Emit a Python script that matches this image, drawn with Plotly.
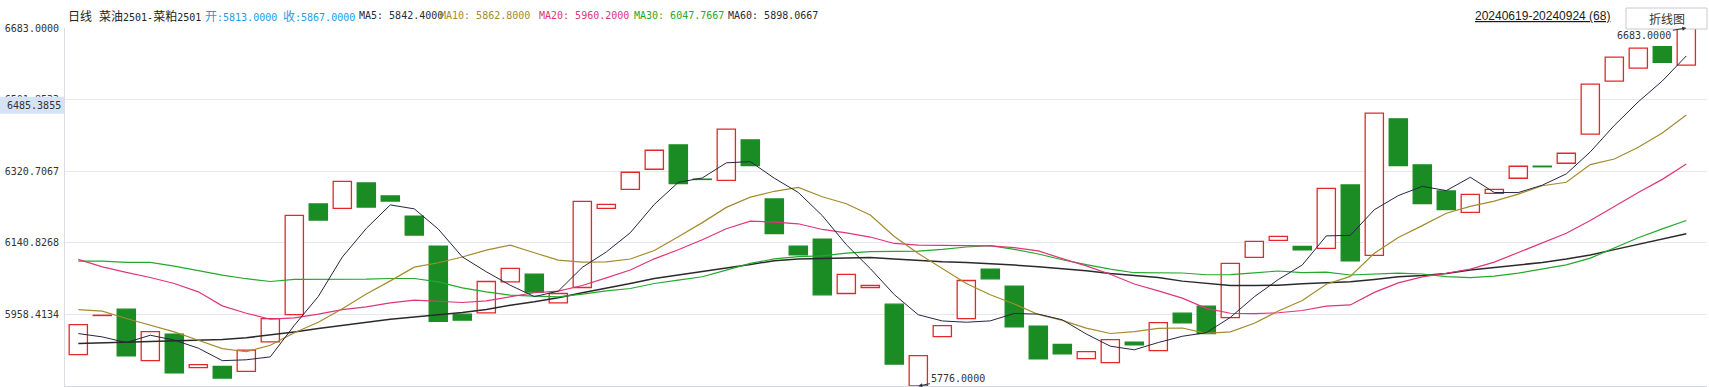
import plotly.graph_objects as go

# ---------------- data ----------------
days = list(range(68))  # 20240619 .. 20240924, 68 trading days

opens = [5855.5, 5954.5, 5970.6, 5840.3, 5907.1, 5822.5, 5825.9, 5813.0, 5887.7, 5957.0,
         6237.1, 6226.1, 6290.4, 6257.4, 6206.6, 6130.5, 5957.9, 5961.3, 6040.0, 6059.4,
         5986.7, 6025.6, 6226.1, 6274.3, 6325.1, 6386.9, 6300.2, 6297.2, 6399.6, 6249.8,
         6130.5, 6148.3, 6010.4, 6025.6, 5983.3, 5776.0, 5901.2, 5946.9, 6072.1, 6029.0,
         5927.4, 5881.7, 5845.4, 5835.2, 5886.8, 5865.7, 5960.4, 5978.2, 5949.4, 6101.7,
         6144.9, 6129.7, 6124.6, 6285.3, 6106.8, 6452.9, 6336.1, 6270.1, 6216.0, 6264.2,
         6302.3, 6333.0, 6340.3, 6413.9, 6548.5, 6581.5, 6635.6, 6589.1]
closes = [5931.7, 5954.5, 5852.1, 5913.9, 5809.0, 5830.1, 5796.3, 5867.0, 5946.9, 6208.3,
          6196.5, 6294.6, 6229.5, 6244.7, 6158.4, 5940.1, 5942.7, 6040.8, 6073.8, 6013.7,
          6010.4, 6243.9, 6236.3, 6317.5, 6373.3, 6288.7, 6299.2, 6426.6, 6334.4, 6161.8,
          6108.5, 6007.0, 6058.6, 6030.7, 5831.8, 5853.0, 5929.1, 6043.3, 6047.6, 5925.7,
          5844.5, 5857.2, 5863.1, 5893.6, 5880.0, 5936.7, 5935.9, 5908.8, 6086.5, 6142.3,
          6155.0, 6121.2, 6276.9, 6093.3, 6467.2, 6334.4, 6238.0, 6222.7, 6261.6, 6274.3,
          6332.7, 6331.4, 6365.7, 6540.9, 6609.4, 6632.2, 6595.9, 6683.0]

ma5 = [5908.8, 5900.4, 5886.0, 5904.6, 5892.2, 5871.9, 5840.2, 5842.4, 5849.8, 5929.6,
       6002.9, 6102.7, 6175.2, 6234.8, 6224.8, 6173.5, 6103.1, 6065.4, 6031.2, 6002.4,
       6016.4, 6076.6, 6115.6, 6164.3, 6236.1, 6291.9, 6303.1, 6341.3, 6344.6, 6302.4,
       6266.3, 6207.7, 6134.1, 6073.5, 6007.5, 5956.4, 5940.8, 5937.6, 5941.0, 5959.8,
       5958.1, 5943.7, 5907.7, 5876.9, 5867.7, 5886.2, 5902.0, 5911.2, 5949.7, 6002.1,
       6045.7, 6082.7, 6156.3, 6157.6, 6222.6, 6258.4, 6281.8, 6271.0, 6304.8, 6266.2,
       6266.0, 6284.8, 6313.4, 6369.2, 6436.2, 6496.0, 6548.8, 6612.2]
ma10 = [5969.7, 5965.5, 5946.9, 5930.0, 5913.0, 5891.9, 5870.7, 5862.8, 5879.2, 5910.9,
        5937.4, 5971.5, 6009.2, 6042.3, 6077.2, 6088.2, 6102.9, 6120.3, 6133.0, 6113.6,
        6095.0, 6089.9, 6090.5, 6097.8, 6119.3, 6154.2, 6189.9, 6228.5, 6254.5, 6269.3,
        6279.1, 6255.4, 6237.7, 6209.1, 6155.0, 6111.4, 6074.3, 6035.9, 6007.3, 5983.7,
        5957.3, 5942.3, 5922.7, 5909.0, 5913.8, 5922.2, 5922.9, 5909.5, 5913.3, 5934.9,
        5966.0, 5992.4, 6033.8, 6053.7, 6112.4, 6152.1, 6182.3, 6213.7, 6231.2, 6244.4,
        6262.2, 6283.3, 6292.2, 6337.0, 6351.2, 6381.0, 6416.8, 6462.8]
ma20 = [6096.7, 6078.0, 6063.7, 6051.0, 6035.7, 6014.6, 5979.0, 5960.2, 5945.2, 5948.6,
        5957.9, 5969.7, 5976.5, 5986.7, 5993.4, 5990.9, 5987.5, 5991.7, 6001.9, 6012.3,
        6016.2, 6030.7, 6049.8, 6070.0, 6098.2, 6121.2, 6146.4, 6174.4, 6193.7, 6191.4,
        6187.0, 6172.6, 6164.1, 6153.4, 6137.1, 6132.8, 6132.1, 6132.2, 6130.9, 6126.5,
        6118.2, 6098.8, 6080.2, 6059.0, 6034.4, 6016.8, 5998.6, 5972.7, 5960.3, 5959.3,
        5961.6, 5967.3, 5978.2, 5981.3, 6013.1, 6037.1, 6052.6, 6061.6, 6072.3, 6089.7,
        6114.1, 6137.8, 6163.0, 6195.3, 6231.8, 6266.5, 6299.5, 6338.2]
ma30 = [6092.4, 6092.4, 6089.0, 6089.0, 6079.7, 6067.9, 6056.9, 6047.8, 6040.8, 6045.9,
        6045.9, 6045.9, 6046.7, 6048.4, 6048.4, 6040.0, 6024.7, 6014.6, 6006.1, 6003.6,
        6001.9, 6008.7, 6017.1, 6023.0, 6035.7, 6044.2, 6052.7, 6069.6, 6086.5, 6097.9,
        6103.8, 6105.6, 6112.5, 6116.4, 6117.1, 6117.9, 6122.3, 6128.2, 6131.6, 6122.2,
        6110.4, 6095.8, 6083.6, 6071.9, 6063.0, 6062.6, 6062.3, 6057.9, 6058.3, 6062.6,
        6067.4, 6063.3, 6064.7, 6057.2, 6060.4, 6061.9, 6059.8, 6053.0, 6050.6, 6054.3,
        6061.8, 6072.6, 6082.9, 6099.9, 6125.8, 6151.7, 6174.0, 6195.3]
ma60 = [5883.4, 5885.0, 5886.8, 5887.7, 5889.4, 5890.3, 5893.6, 5898.1, 5904.6, 5913.0,
        5921.5, 5930.0, 5938.4, 5945.2, 5951.1, 5956.2, 5962.1, 5969.7, 5980.7, 5989.2,
        5999.4, 6012.0, 6023.0, 6035.7, 6048.4, 6056.9, 6065.3, 6073.8, 6084.0, 6093.3,
        6097.5, 6099.2, 6100.9, 6101.7, 6097.5, 6093.3, 6090.7, 6089.0, 6086.5, 6082.3,
        6078.0, 6073.8, 6067.9, 6061.1, 6056.9, 6051.0, 6041.7, 6035.7, 6030.7, 6030.7,
        6031.5, 6034.9, 6037.4, 6039.9, 6045.9, 6052.7, 6056.0, 6061.1, 6069.6, 6076.1,
        6082.8, 6089.1, 6097.7, 6108.1, 6121.5, 6134.8, 6148.2, 6161.8]

y_min, y_max = 5776.0, 6683.0
tick_vals = [6683.0, 6501.6, 6320.2, 6138.8, 5957.4]
tick_text = ["6683.0000", "6501.8533", "6320.7067", "6140.8268", "5958.4134"]

# ---------------- styling ----------------
RED = "#e5262d"
GREEN = "#1a8c23"
C_MA5 = "#262640"
C_MA10 = "#a38b2e"
C_MA20 = "#e0357b"
C_MA30 = "#25a82d"
C_MA60 = "#2a2a2a"
MONO = "DejaVu Sans Mono, Liberation Mono, monospace"
CJK = "Noto Sans CJK SC"

W, H = 1709, 387
ML, MR, MT, MB = 65, 2, 28, 1
PW, PH = W - ML - MR, H - MT - MB


def px(xpix):
    return (xpix - ML) / PW


def py(ypix):
    return (H - MB - ypix) / PH


up = [c >= o for o, c in zip(opens, closes)]
base = [min(o, c) for o, c in zip(opens, closes)]
height = [max(abs(c - o), 0.8) for o, c in zip(opens, closes)]
fill = ["#ffffff" if u else GREEN for u in up]
edge = [RED if u else GREEN for u in up]

fig = go.Figure()
fig.add_trace(go.Bar(x=days, y=height, base=base, width=0.76,
                     marker=dict(color=fill, line=dict(color=edge, width=1.3)),
                     hoverinfo="skip"))

for vals, col, w in [(ma60, C_MA60, 1.5), (ma30, C_MA30, 1.2), (ma20, C_MA20, 1.2),
                     (ma10, C_MA10, 1.2), (ma5, C_MA5, 1.0)]:
    fig.add_trace(go.Scatter(x=days, y=vals, mode="lines",
                             line=dict(color=col, width=w), hoverinfo="skip"))

x_lo = -0.554
x_hi = x_lo + PW / 24.0

fig.update_layout(
    width=W, height=H,
    margin=dict(l=ML, r=MR, t=MT, b=MB, pad=0),
    paper_bgcolor="white", plot_bgcolor="white",
    showlegend=False, barmode="overlay",
    xaxis=dict(range=[x_lo, x_hi], showgrid=False, zeroline=False,
               showticklabels=False, ticks="", showline=True,
               linecolor="#d6d6e4", linewidth=1),
    yaxis=dict(range=[y_min, y_max], tickvals=tick_vals, ticktext=tick_text,
               showgrid=True, gridcolor="#e7e7f0", gridwidth=1, zeroline=False,
               showline=True, linecolor="#dcdce8", linewidth=1, ticks="",
               tickfont=dict(family=MONO, size=10, color="#333333"),
               ticklabelstandoff=3),
)

ann = []


def head(xpix, text, color, size=10, family=MONO):
    ann.append(dict(xref="paper", yref="paper", x=px(xpix), y=py(16), text=text,
                    showarrow=False, xanchor="left", yanchor="middle",
                    font=dict(family=family, size=size, color=color)))


cj = '<span style="font-family:Noto Sans CJK SC;font-size:12px">%s</span>'
head(66, cj % "日线", "#222222")
head(97, cj % "菜油" + "2501-" + cj % "菜粕" + "2501", "#222222")
head(203, cj % "开" + ":5813.0000", "#1aa0e6")
head(281, cj % "收" + ":5867.0000", "#1aa0e6")
head(357, "MA5: 5842.4000", "#2a2a3a")
head(438, "MA10: 5862.8000", C_MA10)
head(537, "MA20: 5960.2000", C_MA20)
head(632, "MA30: 6047.7667", C_MA30)
head(726, "MA60: 5898.0667", "#2a2a3a")
head(1473, "<u>20240619-20240924 (68)</u>", "#1a1a1a", size=12,
     family="Liberation Sans, Arial")

ann.append(dict(xref="paper", yref="paper", x=px(1666.5), y=py(18.5), text="折线图",
                showarrow=False, xanchor="center", yanchor="middle",
                font=dict(family=CJK, size=12, color="#333333")))

# crosshair price label on the axis
ann.append(dict(xref="paper", yref="y", x=px(63), y=6487.0, text="6485.3855",
                showarrow=False, xanchor="right", yanchor="middle",
                font=dict(family=MONO, size=10, color="#333333")))

# max / min markers
ann.append(dict(x=67, y=6683.0, xref="x", yref="y", text="6683.0000",
                showarrow=True, ax=-42, ay=7, arrowhead=2, arrowsize=0.8,
                arrowwidth=1, arrowcolor="#333333", standoff=0,
                font=dict(family=MONO, size=10, color="#333333")))
ann.append(dict(x=35, y=5776.0, xref="x", yref="y", text="5776.0000",
                showarrow=True, ax=40, ay=-8, arrowhead=2, arrowsize=0.8,
                arrowwidth=1, arrowcolor="#333333", standoff=0,
                font=dict(family=MONO, size=10, color="#333333")))

shapes = [
    dict(type="rect", xref="paper", yref="y", x0=px(0), x1=px(64), y0=6465.5, y1=6508.7,
         fillcolor="#d6e2f6", line=dict(width=0), layer="above"),
    dict(type="rect", xref="paper", yref="paper", x0=px(1626), x1=px(1707),
         y0=py(29), y1=py(8), fillcolor="white", line=dict(color="#c8c8d6", width=1),
         layer="above"),
]

fig.update_layout(annotations=ann, shapes=shapes)
fig.write_html("out.html")
